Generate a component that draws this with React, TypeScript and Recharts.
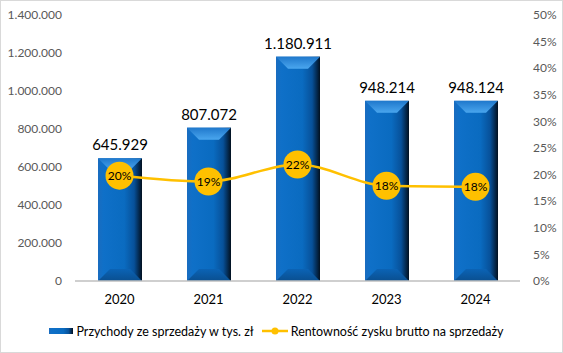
import React from "react";
import {
  ComposedChart,
  Bar,
  Line,
  XAxis,
  YAxis,
  Legend,
  LabelList,
} from "recharts";

const years = ["2020", "2021", "2022", "2023", "2024"];
const revenue = [645929, 807072, 1180911, 948214, 948124];
const margin = [19.8, 18.7, 21.9, 17.9, 17.7];
const leftTicks = [0, 200000, 400000, 600000, 800000, 1000000, 1200000, 1400000];
const rightTicks = [0, 5, 10, 15, 20, 25, 30, 35, 40, 45, 50];

const data = years.map((year, i) => ({
  year,
  revenue: revenue[i],
  margin: margin[i],
}));

const FONT = "Lato, 'Open Sans', sans-serif";

const plFormat = (v: number) =>
  String(Math.round(v)).replace(/\B(?=(\d{3})+(?!\d))/g, ".");

const BevelBar = (props: any) => {
  const { x, y, width, height } = props;
  if (!height || height <= 0) return null;
  const b = Math.min(12, height / 2);
  return (
    <g>
      <rect x={x} y={y} width={width} height={height} fill="url(#barSide)" />
      <polygon
        points={`${x},${y} ${x + width},${y} ${x + width - b},${y + b} ${x + b},${y + b}`}
        fill="url(#barTop)"
      />
      <polygon
        points={`${x},${y + height} ${x + width},${y + height} ${x + width - b},${y + height - b} ${x + b},${y + height - b}`}
        fill="url(#barBottom)"
      />
    </g>
  );
};

const Dot = (props: any) => {
  const { cx, cy } = props;
  if (cx == null || cy == null) return null;
  return <circle cx={cx} cy={cy} r={14} fill="#FFC000" />;
};

const renderLegend = () => (
  <div
    style={{
      display: "flex",
      justifyContent: "center",
      alignItems: "center",
      fontFamily: FONT,
      fontSize: 12.5,
      color: "#000",
      height: 40,
      paddingRight: 10,
    }}
  >
    <svg width={24} height={8} style={{ marginRight: 3 }}>
      <rect x={0} y={1} width={24} height={6} fill="url(#barSide)" />
    </svg>
    <span style={{ marginRight: 8 }}>Przychody ze sprzedaży w tys. zł</span>
    <svg width={26} height={10} style={{ marginRight: 3 }}>
      <line x1={0} y1={5} x2={26} y2={5} stroke="#FFC000" strokeWidth={2.5} />
      <circle cx={13} cy={5} r={3.5} fill="#FFC000" />
    </svg>
    <span>Rentowność zysku brutto na sprzedaży</span>
  </div>
);

export default function App() {
  return (
    <div
      style={{
        position: "fixed",
        left: 0,
        top: 0,
        width: 563,
        height: 353,
        background: "#fff",
      }}
    >
      <ComposedChart
        width={563}
        height={353}
        data={data}
        margin={{ top: 15, right: 8, left: 8, bottom: 2 }}
      >
        <defs>
          <linearGradient id="barSide" x1="0" y1="0" x2="1" y2="0">
            <stop offset="0%" stopColor="#1a6cbf" />
            <stop offset="12%" stopColor="#0f70c8" />
            <stop offset="60%" stopColor="#0a6bc0" />
            <stop offset="82%" stopColor="#07519a" />
            <stop offset="100%" stopColor="#02101f" />
          </linearGradient>
          <linearGradient id="barTop" x1="0" y1="0" x2="0" y2="1">
            <stop offset="0%" stopColor="#1f78cc" />
            <stop offset="100%" stopColor="#4aa6ee" />
          </linearGradient>
          <linearGradient id="barBottom" x1="0" y1="0" x2="0" y2="1">
            <stop offset="0%" stopColor="#0b63b5" />
            <stop offset="100%" stopColor="#0a4f90" />
          </linearGradient>
        </defs>
        <XAxis
          dataKey="year"
          height={30}
          tickSize={0}
          tickMargin={14}
          axisLine={{ stroke: "#bfbfbf", strokeWidth: 1.5 }}
          tick={{ fill: "#000", fontSize: 13, fontFamily: FONT }}
        />
        <YAxis
          yAxisId="left"
          width={67}
          domain={[0, 1400000]}
          ticks={leftTicks}
          tickFormatter={plFormat}
          axisLine={false}
          tickSize={0}
          tickMargin={13}
          tick={{ fill: "#595959", fontSize: 12, fontFamily: FONT }}
        />
        <YAxis
          yAxisId="right"
          orientation="right"
          width={35}
          domain={[0, 50]}
          ticks={rightTicks}
          tickFormatter={(v: number) => `${v}%`}
          axisLine={false}
          tickSize={0}
          tickMargin={13}
          tick={{ fill: "#595959", fontSize: 12, fontFamily: FONT, textAnchor: "start" }}
        />
        <Legend verticalAlign="bottom" height={40} content={renderLegend} />
        <Bar
          yAxisId="left"
          dataKey="revenue"
          barSize={44}
          shape={BevelBar}
          isAnimationActive={false}
        >
          <LabelList
            dataKey="revenue"
            position="top"
            offset={8}
            formatter={(v: any) => plFormat(Number(v))}
            style={{ fill: "#000", fontSize: 15, fontFamily: FONT }}
          />
        </Bar>
        <Line
          yAxisId="right"
          dataKey="margin"
          type="monotone"
          stroke="#FFC000"
          strokeWidth={2.5}
          dot={Dot}
          activeDot={false}
          isAnimationActive={false}
        >
          <LabelList
            dataKey="margin"
            position="center"
            formatter={(v: any) => `${Math.round(Number(v))}%`}
            style={{ fill: "#000", fontSize: 12, fontFamily: FONT }}
          />
        </Line>
      </ComposedChart>
      <div
        style={{
          position: "absolute",
          left: 0,
          top: 0,
          width: 563,
          height: 353,
          boxSizing: "border-box",
          border: "1px solid #d9d9d9",
          pointerEvents: "none",
        }}
      />
    </div>
  );
}
